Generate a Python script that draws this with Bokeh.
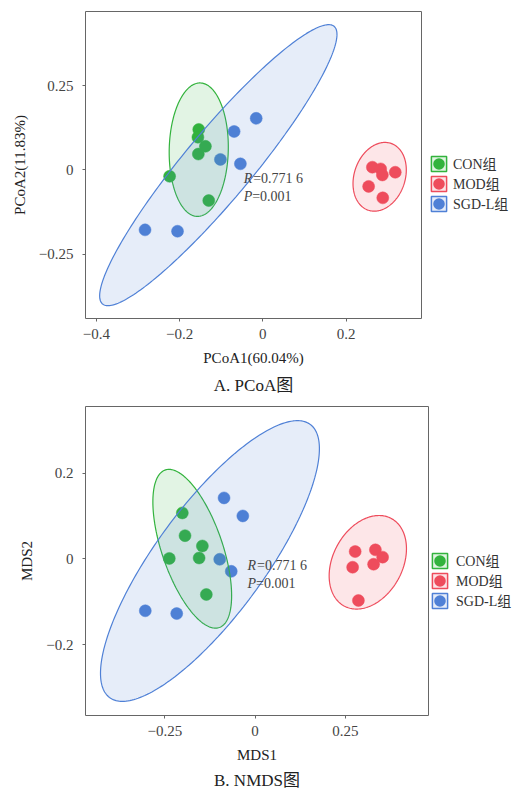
import numpy as np
from bokeh.plotting import figure
from bokeh.models import Range1d, FixedTicker, Legend, LegendItem, Title
from bokeh.layouts import column
from bokeh.core.properties import value
from bokeh.embed import file_html
from bokeh.resources import INLINE

# ---------------- data ----------------
groups = ["CON组", "MOD组", "SGD-L组"]
colors = ["#33B33D", "#EE4C5C", "#4F80D6"]

# A. PCoA
pcoa_con_x = [-0.154, -0.156, -0.138, -0.155, -0.224, -0.130]
pcoa_con_y = [0.120, 0.097, 0.070, 0.047, -0.019, -0.091]
pcoa_mod_x = [0.263, 0.283, 0.287, 0.318, 0.254, 0.288]
pcoa_mod_y = [0.008, 0.003, -0.015, -0.007, -0.049, -0.083]
pcoa_sgd_x = [-0.016, -0.069, -0.102, -0.054, -0.283, -0.205]
pcoa_sgd_y = [0.153, 0.114, 0.031, 0.018, -0.178, -0.182]
# ellipse: centre x, centre y, half-width x, half-height y, correlation
pcoa_ell_cx = [-0.154, 0.2805, -0.107]
pcoa_ell_cy = [0.060, -0.0205, 0.014]
pcoa_ell_sx = [0.071, 0.064, 0.285]
pcoa_ell_sy = [0.198, 0.102, 0.417]
pcoa_ell_rho = [0.04, 0.20, 0.93]
pcoa_xticks = [-0.4, -0.2, 0, 0.2]
pcoa_xlabels = ["−0.4", "−0.2", "0", "0.2"]
pcoa_yticks = [-0.25, 0, 0.25]
pcoa_ylabels = ["−0.25", "0", "0.25"]

# B. NMDS
nmds_con_x = [-0.2015, -0.194, -0.146, -0.2375, -0.155, -0.135]
nmds_con_y = [0.107, 0.054, 0.030, 0.001, 0.002, -0.083]
nmds_mod_x = [0.277, 0.333, 0.353, 0.328, 0.270, 0.286]
nmds_mod_y = [0.017, 0.021, 0.004, -0.0125, -0.0195, -0.097]
nmds_sgd_x = [-0.086, -0.034, -0.098, -0.066, -0.304, -0.217]
nmds_sgd_y = [0.142, 0.100, -0.001, -0.029, -0.121, -0.1275]
nmds_ell_cx = [-0.174, 0.312, -0.125]
nmds_ell_cy = [0.0235, -0.008, -0.005]
nmds_ell_sx = [0.109, 0.107, 0.303]
nmds_ell_sy = [0.185, 0.109, 0.327]
nmds_ell_rho = [-0.59, 0.29, 0.80]
nmds_xticks = [-0.25, 0, 0.25]
nmds_xlabels = ["−0.25", "0", "0.25"]
nmds_yticks = [-0.2, 0, 0.2]
nmds_ylabels = ["−0.2", "0", "0.2"]

stat_R = "0.771 6"
stat_P = "0.001"

SERIF = "Liberation Serif, Noto Sans CJK SC"


def ellipse_xy(cx, cy, sx, sy, rho, n=240):
    t = np.linspace(0, 2 * np.pi, n)
    x = cx + sx * np.cos(t)
    y = cy + sy * (rho * np.cos(t) + np.sqrt(1 - rho ** 2) * np.sin(t))
    return x, y


def panel(pts, ell, xr, yr, xticks, xlabels, yticks, ylabels, xlab, ylab, caption,
          stat_pos, fw, fh, mleft, mright, mtop, mbottom, leg_loc, leg_standoff,
          title_standoff):
    p = figure(frame_width=fw, frame_height=fh,
               x_range=Range1d(*xr), y_range=Range1d(*yr),
               output_backend="svg", toolbar_location=None,
               min_border_left=mleft, min_border_right=mright,
               min_border_top=mtop, min_border_bottom=mbottom,
               background_fill_color="white", border_fill_color="white")
    p.grid.visible = False
    p.outline_line_color = "#666666"
    p.outline_line_width = 1

    for ax, ticks, labels in ((p.xaxis, xticks, xlabels), (p.yaxis, yticks, ylabels)):
        ax.ticker = FixedTicker(ticks=ticks)
        ax.major_label_overrides = {t: l for t, l in zip(ticks, labels)}
        ax.axis_line_color = None
        ax.major_tick_line_color = "#666666"
        ax.major_tick_out = 3
        ax.major_tick_in = 0
        ax.minor_tick_line_color = None
        ax.major_label_text_font = SERIF
        ax.major_label_text_font_size = "15px"
        ax.major_label_text_color = "#444444"
        ax.axis_label_text_font = SERIF
        ax.axis_label_text_font_size = "15px"
        ax.axis_label_text_font_style = "normal"
        ax.axis_label_text_color = "#222222"
    p.xaxis.axis_label = xlab
    p.yaxis.axis_label = ylab
    p.xaxis.major_label_standoff = 7
    p.xaxis.axis_label_standoff = 8
    p.yaxis.major_label_standoff = 9
    p.yaxis.axis_label_standoff = 8

    items = []
    for i, g in enumerate(groups):
        xs, ys = pts[i]
        p.scatter(xs, ys, size=12, fill_color=colors[i], line_color=colors[i], line_width=0.5)
    for i, g in enumerate(groups):
        ex, ey = ellipse_xy(ell[0][i], ell[1][i], ell[2][i], ell[3][i], ell[4][i])
        p.patch(ex, ey, fill_color=colors[i], fill_alpha=0.14,
                line_color=colors[i], line_width=1.2)
    for i, g in enumerate(groups):
        # legend-only placeholders (NaN -> nothing drawn inside the frame)
        box = p.quad(left=[np.nan], right=[np.nan], top=[np.nan], bottom=[np.nan],
                     fill_color=colors[i], fill_alpha=0.15,
                     line_color=colors[i], line_width=1.5)
        dot = p.scatter(x=[np.nan], y=[np.nan], size=10, fill_color=colors[i],
                        line_color=colors[i], line_width=4)
        items.append(LegendItem(label=g, renderers=[box, dot]))

    sx, sy1, sy2 = stat_pos
    p.text(x=[sx, sx], y=[sy1, sy2], text=["R", "P"], text_font=value(SERIF),
           text_font_style="italic", text_font_size="14px", text_color="#444444",
           text_baseline="middle", text_align="left")
    p.text(x=[sx, sx], y=[sy1, sy2], text=["=" + stat_R, "=" + stat_P], text_font=value(SERIF),
           text_font_size="14px", text_color="#444444", x_offset=[9.5, 8.5],
           text_baseline="middle", text_align="left")

    leg = Legend(items=items, location=leg_loc, orientation="vertical",
                 glyph_width=19, glyph_height=19, label_height=19, spacing=0,
                 padding=2, margin=0, border_line_color=None, background_fill_alpha=0,
                 label_standoff=leg_standoff, label_text_font=SERIF,
                 label_text_font_size="14px", label_text_color="#333333")
    p.add_layout(leg, "right")

    t = Title(text=caption, align="center", text_font=SERIF, text_font_size="17px",
              text_font_style="normal", text_color="#222222", standoff=title_standoff)
    p.add_layout(t, "below")
    return p


p1 = panel([(pcoa_con_x, pcoa_con_y), (pcoa_mod_x, pcoa_mod_y), (pcoa_sgd_x, pcoa_sgd_y)],
           [pcoa_ell_cx, pcoa_ell_cy, pcoa_ell_sx, pcoa_ell_sy, pcoa_ell_rho],
           (-0.426, 0.381), (-0.441, 0.470),
           pcoa_xticks, pcoa_xlabels, pcoa_yticks, pcoa_ylabels,
           "PCoA1(60.04%)", "PCoA2(11.83%)", "A. PCoA图",
           (-0.046, -0.026, -0.078),
           fw=336, fh=307, mleft=85, mright=91, mtop=11, mbottom=82,
           leg_loc=(8, 105), leg_standoff=5, title_standoff=10)

p2 = panel([(nmds_con_x, nmds_con_y), (nmds_mod_x, nmds_mod_y), (nmds_sgd_x, nmds_sgd_y)],
           [nmds_ell_cx, nmds_ell_cy, nmds_ell_sx, nmds_ell_sy, nmds_ell_rho],
           (-0.4695, 0.480), (-0.365, 0.355),
           nmds_xticks, nmds_xlabels, nmds_yticks, nmds_ylabels,
           "MDS1", "MDS2", "B. NMDS图",
           (-0.021, -0.0156, -0.058),
           fw=343, fh=309, mleft=83, mright=86, mtop=6, mbottom=77,
           leg_loc=(2, 105), leg_standoff=7, title_standoff=7)

layout = column(p1, p2, spacing=0)
open("out.html", "w").write(file_html(layout, INLINE))
